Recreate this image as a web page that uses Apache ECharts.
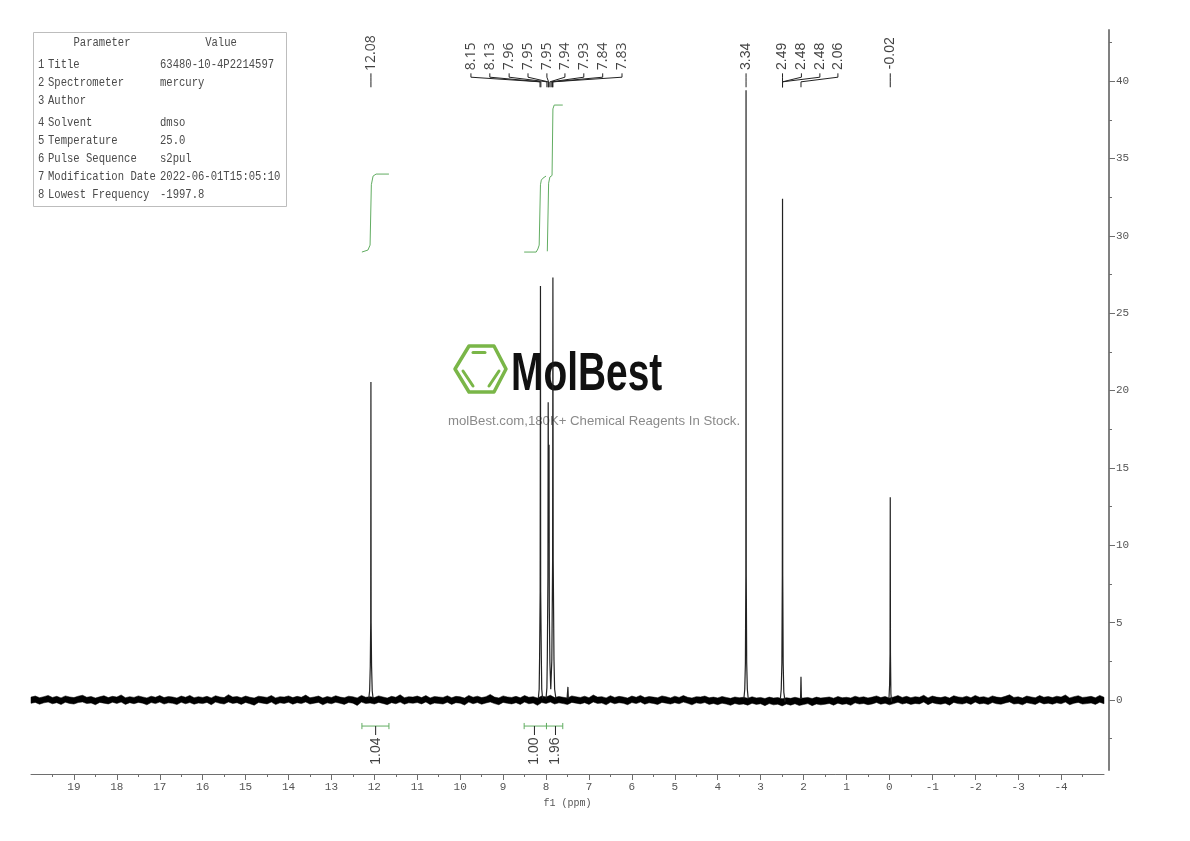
<!DOCTYPE html>
<html>
<head>
<meta charset="utf-8">
<title>1H NMR</title>
<script src="https://cdn.jsdelivr.net/npm/echarts@6/dist/echarts.min.js"></script>
<style>
  html, body { margin: 0; padding: 0; background: #fff; }
  #chart { width: 1190px; height: 841px; }
</style>
</head>
<body>
<div id="chart"></div>
<script>
// axis ranges (ppm runs right to left, the axis is inverted)
const ppm_left = 20, ppm_right = -5;
const y_top = 43.3, y_bottom = -4.52;
const x_ticks = [19,18,17,16,15,14,13,12,11,10,9,8,7,6,5,4,3,2,1,0,-1,-2,-3,-4];
const x_half_ticks = [19.5,18.5,17.5,16.5,15.5,14.5,13.5,12.5,11.5,10.5,9.5,8.5,7.5,6.5,5.5,4.5,3.5,2.5,1.5,0.5,-0.5,-1.5,-2.5,-3.5,-4.5];
const y_ticks = [0,5,10,15,20,25,30,35,40];
const y_half_ticks = [-2.5,2.5,7.5,12.5,17.5,22.5,27.5,32.5,37.5,42.5];

// baseline noise envelope, one reading every 0.1 ppm from 20 down to -5
const noise_step = 0.1;
const noise_hi = [.19,.26,.15,.22,.3,.17,.24,.14,.27,.2,.16,.25,.31,.18,.23,.13,.21,.28,.16,.24,
  .19,.33,.15,.22,.17,.27,.2,.14,.25,.18,.29,.16,.23,.2,.13,.26,.18,.3,.15,.22,
  .17,.24,.14,.28,.2,.16,.35,.19,.23,.15,.26,.18,.13,.25,.21,.17,.29,.14,.22,.19,
  .27,.16,.24,.18,.32,.15,.2,.26,.13,.23,.17,.28,.19,.15,.25,.21,.14,.3,.18,.22,
  .16,.27,.2,.13,.24,.18,.34,.15,.22,.19,.26,.16,.29,.14,.23,.2,.17,.28,.15,.24,
  .21,.13,.3,.18,.25,.16,.22,.36,.19,.14,.27,.2,.17,.24,.15,.29,.18,.22,.13,.26,
  .2,.31,.16,.23,.18,.14,.27,.21,.17,.25,.15,.33,.19,.22,.14,.28,.17,.24,.2,.13,
  .26,.18,.3,.16,.23,.19,.15,.27,.21,.14,.25,.17,.29,.18,.13,.22,.2,.26,.15,.19,
  .14,.23,.17,.11,.2,.15,.18,.12,.21,.14,.17,.1,.19,.13,.16,.09,.15,.11,.18,.12,
  .14,.17,.1,.19,.13,.16,.2,.12,.23,.15,.18,.13,.25,.17,.21,.14,.19,.27,.16,.23,
  .13,.2,.29,.17,.24,.15,.22,.18,.31,.14,.26,.19,.16,.23,.13,.28,.2,.17,.25,.15,
  .3,.18,.22,.14,.27,.19,.16,.24,.34,.17,.21,.13,.26,.2,.15,.29,.18,.23,.16,.25,
  .19,.33,.14,.22,.28,.17,.2,.24,.15,.3,.18];
const noise_lo = [-.21,-.15,-.27,-.18,-.13,-.24,-.17,-.29,-.14,-.22,-.26,-.16,-.12,-.23,-.19,-.3,-.15,-.2,-.25,-.14,
  -.22,-.13,-.28,-.17,-.24,-.15,-.2,-.31,-.16,-.23,-.13,-.26,-.18,-.21,-.29,-.14,-.24,-.16,-.27,-.19,
  -.23,-.15,-.3,-.13,-.21,-.26,-.12,-.22,-.17,-.28,-.15,-.24,-.33,-.16,-.2,-.25,-.13,-.29,-.18,-.22,
  -.14,-.27,-.17,-.23,-.12,-.26,-.2,-.15,-.31,-.18,-.24,-.14,-.21,-.28,-.16,-.2,-.35,-.13,-.23,-.19,
  -.26,-.15,-.22,-.3,-.17,-.24,-.13,-.27,-.18,-.21,-.16,-.25,-.12,-.29,-.19,-.22,-.26,-.14,-.28,-.17,
  -.2,-.32,-.13,-.24,-.16,-.27,-.19,-.12,-.23,-.3,-.15,-.21,-.25,-.17,-.28,-.13,-.24,-.19,-.34,-.16,
  -.22,-.13,-.26,-.18,-.23,-.29,-.15,-.2,-.25,-.17,-.28,-.12,-.22,-.19,-.31,-.14,-.24,-.17,-.21,-.3,
  -.16,-.23,-.13,-.27,-.18,-.22,-.29,-.15,-.2,-.26,-.17,-.24,-.13,-.21,-.31,-.18,-.23,-.16,-.28,-.22,
  -.3,-.2,-.26,-.34,-.22,-.29,-.25,-.33,-.21,-.28,-.24,-.36,-.23,-.31,-.27,-.38,-.26,-.33,-.24,-.35,
  -.29,-.23,-.36,-.25,-.31,-.27,-.22,-.33,-.2,-.28,-.24,-.34,-.18,-.26,-.22,-.3,-.25,-.16,-.27,-.2,
  -.31,-.23,-.14,-.26,-.19,-.28,-.22,-.25,-.13,-.3,-.17,-.24,-.27,-.2,-.33,-.15,-.23,-.26,-.18,-.28,
  -.13,-.25,-.21,-.29,-.16,-.24,-.27,-.19,-.12,-.26,-.22,-.31,-.17,-.23,-.28,-.14,-.25,-.2,-.27,-.18,
  -.24,-.13,-.3,-.21,-.15,-.26,-.23,-.19,-.28,-.14,-.24];

// peaks, read as [ppm, intensity] from foot to tip to foot
const peak_1208 = [[12.13,.1],[12.11,.6],[12.095,2.2],[12.085,5],[12.08,20.55],[12.075,5],[12.065,2.2],[12.05,.6],[12.03,.1]];
const peak_815 = [[8.18,.1],[8.16,.7],[8.15,2.8],[8.137,7],[8.13,26.75],[8.125,7],[8.11,2.8],[8.1,.7],[8.08,.1]];
const peak_795 = [[8,.1],[7.98,.8],[7.97,2.8],[7.956,8],[7.95,19.25],[7.94,12],[7.93,16.5],[7.924,6],[7.91,2.4],[7.89,.7]];
const peak_784 = [[7.89,.7],[7.865,2.6],[7.847,9],[7.84,27.3],[7.833,9],[7.815,2.6],[7.8,.7],[7.77,.1]];
const peak_749 = [[7.51,.1],[7.49,.85],[7.48,.1]];
const peak_334 = [[3.39,.1],[3.37,.7],[3.355,2.4],[3.345,8],[3.34,39.4],[3.335,8],[3.325,2.4],[3.31,.7],[3.29,.1]];
const peak_249 = [[2.54,.1],[2.52,.7],[2.505,2.4],[2.495,8],[2.49,32.4],[2.485,8],[2.475,2.4],[2.46,.5],[2.43,-.1]];
const peak_206 = [[2.07,.1],[2.06,1.5],[2.05,.1]];
const peak_002 = [[.01,.1],[-.005,1],[-.015,3],[-.02,13.1],[-.025,3],[-.035,.4],[-.05,-.1]];
const peaks = [peak_1208, peak_815, peak_795, peak_784, peak_749, peak_334, peak_249, peak_206, peak_002];

// integral curves
const integral_1 = [[12.29,28.95],[12.15,29.08],[12.1,29.4],[12.07,33.3],[12.03,33.86],[11.96,33.99],[11.66,33.99]];
const integral_2 = [[8.51,28.95],[8.23,28.95],[8.19,29.15],[8.16,29.4],[8.13,33.3],[8.11,33.6],[8.07,33.73],[8,33.86]];
const integral_3 = [[7.97,29],[7.94,33.4],[7.91,33.8],[7.86,33.9],[7.84,38.2],[7.81,38.45],[7.77,38.5],[7.61,38.45]];
const integrals = [integral_1, integral_2, integral_3];

// integration brackets under the baseline
const bracket_level = -1.68;
const bracket_ends = [[12.29,11.66],[8.51,7.99],[7.99,7.61]];
const integral_text = ['1.04','1.00','1.96'];
const integral_text_ppm = [11.97,8.27,7.78];

// peak pick labels, aromatic group and aliphatic group were set in different faces
const pick_text_a = ['12.08','8.15','8.13','7.96','7.95','7.95','7.94','7.93','7.84','7.83'];
const pick_ppm_a = [12.08,9.75,9.31,8.86,8.42,7.98,7.56,7.12,6.68,6.23];
const pick_target_a = [12.08,8.14,8.12,7.98,7.95,7.94,7.91,7.88,7.85,7.84];
const pick_y_a = [41.8,41.6,41.6,41.6,41.6,41.6,41.6,41.6,41.6,41.6];
const pick_text_b = ['3.34','2.49','2.48','2.48','2.06','-0.02'];
const pick_ppm_b = [3.34,2.49,2.05,1.62,1.2,-0.02];
const pick_target_b = [3.34,2.49,2.49,2.49,2.06,-0.02];
const pick_y_b = [41.6,41.6,41.6,41.6,41.6,41.8];
const pick_stem_top = 40.5, pick_kink = 40.25, pick_bend = 39.95, pick_tip = 39.6;

// parameter table
const table_names = ['1 Title','2 Spectrometer','3 Author','4 Solvent','5 Temperature','6 Pulse Sequence','7 Modification Date','8 Lowest Frequency'];
const table_values = ['63480-10-4P2214597','mercury','','dmso','25.0','s2pul','2022-06-01T15:05:10','-1997.8'];
const table_rows_y = [65,83,101,123,141,159,177,195];

const GAP = [null, null];

function joinLines(lines) {
    let out = [];
    lines.forEach(line => { out = out.concat(line); out.push(GAP); });
    return out;
}

// connectors from the labels down to the peak tips
function pickLines(label_ppm, target_ppm) {
    return label_ppm.map((p, i) => {
        const t = target_ppm[i];
        return [[p, pick_stem_top], [p, pick_kink], [t, pick_bend], [t, pick_tip]];
    });
}

// bracket bars with end ticks and the stem going to the label
function bracketLines() {
    const lines = [];
    bracket_ends.forEach(e => {
        lines.push([[e[0], bracket_level], [e[1], bracket_level]]);
        lines.push([[e[0], bracket_level + .2], [e[0], bracket_level - .2]]);
        lines.push([[e[1], bracket_level + .2], [e[1], bracket_level - .2]]);
    });
    return lines;
}
function stemLines() {
    return integral_text_ppm.map(p => [[p, bracket_level], [p, -2.26]]);
}

function lineSeries(name, data, color, width) {
    return {
        name: name, type: 'line', data: data, showSymbol: false, symbol: 'none',
        connectNulls: false, silent: true, clip: false,
        lineStyle: { color: color, width: width }, z: 3
    };
}

function textSeries(texts, xs, ys, size, family) {
    return {
        type: 'scatter', symbolSize: 1, silent: true, z: 4,
        itemStyle: { color: 'transparent' },
        data: texts.map((t, i) => ({ value: [xs[i], ys[i]], name: t })),
        label: {
            show: true, position: 'inside', rotate: 90, align: 'center', verticalAlign: 'middle',
            formatter: p => p.name, color: '#111', fontSize: size, fontFamily: family
        }
    };
}

const noise_rows = noise_hi.map((h, i) => [ppm_left - i * noise_step, h, noise_lo[i]]);

const mono = '"Liberation Mono", monospace';
const table_color = '#4a4a4a';

function tableText(text, x, y, align) {
    return {
        type: 'text', x: x, y: y, scaleX: .88, z: 5,
        style: { text: text, x: 0, y: 0, fill: table_color, font: '12px ' + mono, textAlign: align || 'left', textVerticalAlign: 'middle' }
    };
}

const table_graphic = [
    { type: 'rect', shape: { x: 33.5, y: 32.5, width: 253, height: 174 }, z: 1, style: { fill: '#fff', stroke: '#bdbdbd', lineWidth: 1 } },
    tableText('Parameter', 102, 43, 'center'),
    tableText('Value', 221, 43, 'center')
];
table_names.forEach((n, i) => {
    table_graphic.push(tableText(n.slice(0, 1), 38, table_rows_y[i]));
    table_graphic.push(tableText(n.slice(2), 48, table_rows_y[i]));
    if (table_values[i]) table_graphic.push(tableText(table_values[i], 160, table_rows_y[i]));
});

const logo_green = '#7ab648';
const logo_graphic = [
    { type: 'polygon', z: 1, shape: { points: [[455,369],[469,346],[494,346],[506,369],[494,392],[469,392]] },
      style: { fill: 'none', stroke: logo_green, lineWidth: 3.5, lineJoin: 'round' } },
    { type: 'line', z: 1, shape: { x1: 473, y1: 352.5, x2: 485, y2: 352.5 }, style: { stroke: logo_green, lineWidth: 3, lineCap: 'round' } },
    { type: 'line', z: 1, shape: { x1: 463, y1: 371, x2: 473, y2: 386 }, style: { stroke: logo_green, lineWidth: 3, lineCap: 'round' } },
    { type: 'line', z: 1, shape: { x1: 489, y1: 386, x2: 499, y2: 371 }, style: { stroke: logo_green, lineWidth: 3, lineCap: 'round' } },
    { type: 'text', z: 1, x: 511, y: 375, scaleX: .72,
      style: { text: 'MolBest', x: 0, y: 0, fill: '#111', font: 'bold 54px "Liberation Sans", sans-serif', textVerticalAlign: 'middle' } },
    { type: 'text', z: 1, x: 448, y: 421,
      style: { text: 'molBest.com,180K+ Chemical Reagents In Stock.', x: 0, y: 0, fill: '#8a8a8a', font: '13.2px "Liberation Sans", sans-serif', textVerticalAlign: 'middle' } }
];

const axis_color = '#6e6e6e';
const label_color = '#555';

const option = {
    animation: false,
    backgroundColor: '#fff',
    grid: { left: 31, right: 86, top: 30, bottom: 71 },
    graphic: { elements: logo_graphic.concat(table_graphic) },
    xAxis: [
        {
            type: 'value', inverse: true, min: ppm_right, max: ppm_left, position: 'bottom', offset: 4,
            name: 'f1 (ppm)', nameLocation: 'middle', nameGap: 24,
            nameTextStyle: { fontFamily: mono, fontSize: 10, color: label_color },
            splitLine: { show: false },
            axisLine: { show: true, onZero: false, lineStyle: { color: axis_color, width: 1 } },
            axisTick: { show: true, length: 6, customValues: x_ticks, lineStyle: { color: axis_color } },
            axisLabel: { show: true, customValues: x_ticks, margin: 8, fontFamily: mono, fontSize: 11, color: label_color }
        },
        {
            type: 'value', inverse: true, min: ppm_right, max: ppm_left, position: 'bottom', offset: 4,
            splitLine: { show: false }, axisLine: { show: false, onZero: false },
            axisTick: { show: true, length: 3, customValues: x_half_ticks, lineStyle: { color: axis_color } },
            axisLabel: { show: false }
        }
    ],
    yAxis: [
        {
            type: 'value', min: y_bottom, max: y_top, position: 'right', offset: 5,
            splitLine: { show: false },
            axisLine: { show: true, onZero: false, lineStyle: { color: '#808080', width: 2 } },
            axisTick: { show: true, length: 6, customValues: y_ticks, lineStyle: { color: axis_color } },
            axisLabel: { show: true, customValues: y_ticks, margin: 7, fontFamily: mono, fontSize: 11, color: label_color }
        },
        {
            type: 'value', min: y_bottom, max: y_top, position: 'right', offset: 5,
            splitLine: { show: false }, axisLine: { show: false, onZero: false },
            axisTick: { show: true, length: 3, customValues: y_half_ticks, lineStyle: { color: axis_color } },
            axisLabel: { show: false }
        }
    ],
    series: [
        {
            // noise band drawn once as one jagged polygon
            type: 'custom', silent: true, z: 2, data: noise_rows, clip: false,
            encode: { x: 0, y: [1, 2] },
            renderItem: function (params, api) {
                if (params.dataIndex !== 0) return null;
                const up = noise_rows.map(r => api.coord([r[0], r[1]]));
                const down = noise_rows.map(r => api.coord([r[0], r[2]])).reverse();
                return { type: 'polygon', shape: { points: up.concat(down) }, style: { fill: '#000', stroke: '#000', lineWidth: .5 } };
            }
        },
        lineSeries('spectrum', joinLines(peaks), '#222', 1.2),
        lineSeries('integrals', joinLines(integrals), '#62ad62', 1),
        lineSeries('brackets', joinLines(bracketLines()), '#62ad62', 1),
        lineSeries('stems', joinLines(stemLines()), '#222', 1),
        lineSeries('pick lines a', joinLines(pickLines(pick_ppm_a, pick_target_a)), '#222', 1),
        lineSeries('pick lines b', joinLines(pickLines(pick_ppm_b, pick_target_b)), '#222', 1),
        textSeries(pick_text_a, pick_ppm_a, pick_y_a, 14, '"Open Sans", sans-serif'),
        textSeries(pick_text_b, pick_ppm_b, pick_y_b, 14, '"Liberation Sans", sans-serif'),
        textSeries(integral_text, integral_text_ppm, [-3.3, -3.3, -3.3], 14, '"Liberation Sans", sans-serif')
    ]
};

const myChart = echarts.init(document.getElementById('chart'));
myChart.setOption(option);
</script>
</body>
</html>
